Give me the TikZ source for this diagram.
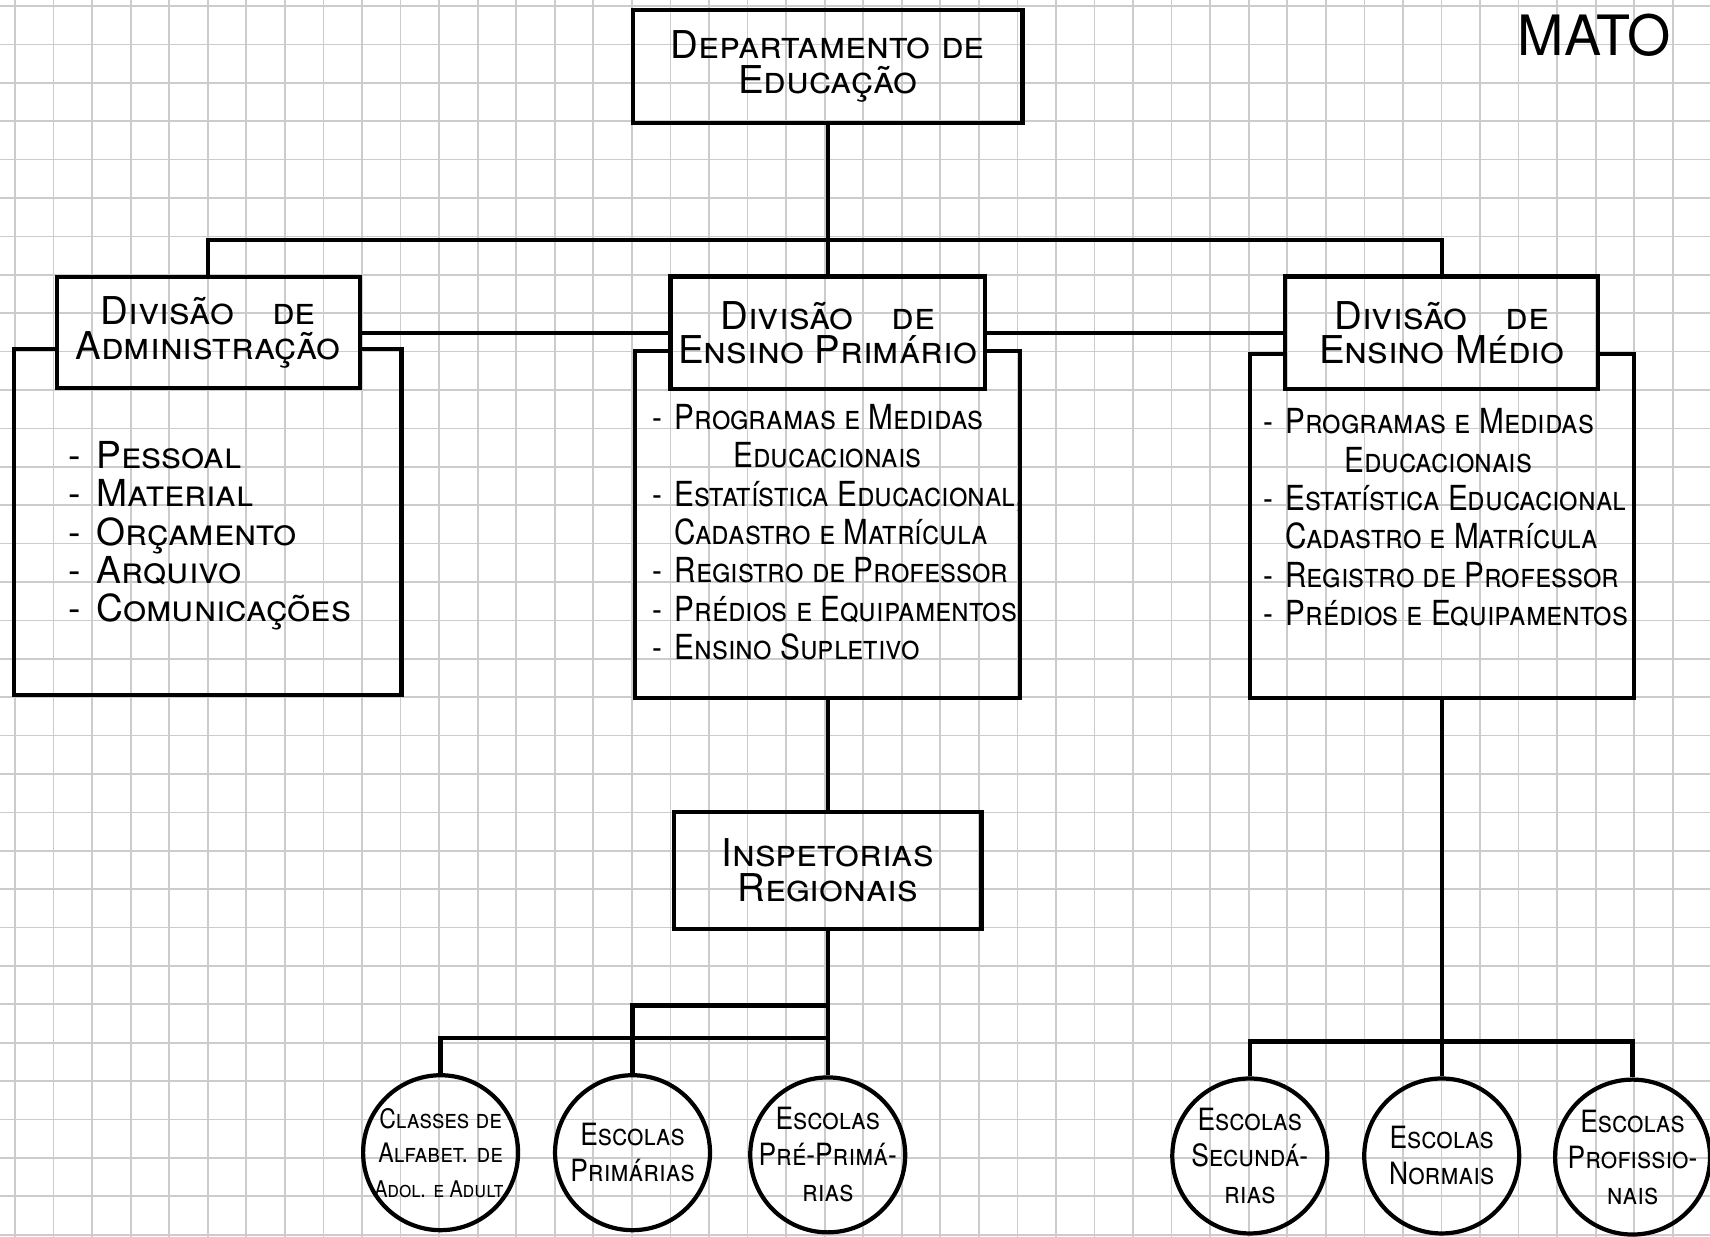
\documentclass[tikz,border=0pt]{standalone}
\usepackage{fontspec}
\usepackage{tikz}
\usetikzlibrary{positioning,calc}
\newfontfamily\hand{TeX Gyre Heros}
\newfontfamily\handn{TeX Gyre Heros}[FakeStretch=0.86]
\newcommand{\itemdash}{\makebox[0.2cm][l]{-}}
\newcommand{\itemgap}{\hspace*{0.2cm}}

\begin{document}
\begin{tikzpicture}[x=0.01cm, y=-0.01cm,
    gridline/.style={black!20, line width=0.45pt},
    box/.style={rectangle, draw, line width=1.1pt, align=center, inner sep=2pt, font=\hand\scshape\fontsize{10}{9}\selectfont},
    listframe/.style={rectangle, inner sep=0pt, outer sep=0pt},
    frame/.style={line width=1.1pt},
    link/.style={line width=1.1pt},
    items/.style={anchor=north west, align=left, inner sep=0pt, font=\handn\scshape\fontsize{9}{10}\selectfont},
    bigitems/.style={items, font=\hand\scshape\fontsize{9.7}{10}\selectfont},
    school/.style={circle, draw, line width=1.1pt, minimum size=1.42cm, inner sep=-2pt, align=center, font=\handn\scshape\fontsize{8}{9.4}\selectfont}
]
\useasboundingbox (0,0) rectangle (1568,1134);

% graph paper
\begin{scope}
\clip (0,0) rectangle (1568,1134);
\draw[gridline, shift={(13.8,5.5)}, xstep=0.3533cm, ystep=0.3519cm] (-40,1160) grid (1600,-60);
\end{scope}

\node[font=\hand\fontsize{14.5}{16}\selectfont] (mato) at (1462,32) {MATO};

% top and divisions
\node[box, minimum width=3.57cm, minimum height=1.03cm] (dept) at (759,61) {Departamento de\\Educação};
\node[box, minimum width=2.78cm, minimum height=1.02cm] (adm) at (191,305) {Divisão\quad de\\Administração};
\node[box, minimum width=2.85cm, minimum height=1.03cm] (prim) at (759,305) {Divisão\quad de\\Ensino Primário};
\node[box, minimum width=2.87cm, minimum height=1.03cm] (med) at (1322,305) {Divisão\quad de\\Ensino Médio};

\node[listframe, minimum width=3.55cm, minimum height=3.17cm] (admlist) at (190.5,478.5) {};
\node[listframe, minimum width=3.53cm, minimum height=3.18cm] (primlist) at (759,481) {};
\node[listframe, minimum width=3.52cm, minimum height=3.15cm] (medlist) at (1322,482.5) {};

\coordinate (topbus) at (0,220);
\draw[link] (dept.south) -- (prim.north);
\draw[link] (adm.north) -- (adm.north |- topbus) -- (med.north |- topbus) -- (med.north);
\draw[link] (adm.east) -- (prim.west);
\draw[link] (prim.east) -- (med.west);

\draw[frame] (adm.west |- admlist.north) -- (admlist.north west) -- (admlist.south west) -- (admlist.south east) -- (admlist.north east) -- (adm.east |- admlist.north);
\draw[frame] (prim.west |- primlist.north) -- (primlist.north west) -- (primlist.south west) -- (primlist.south east) -- (primlist.north east) -- (prim.east |- primlist.north);
\draw[frame] (med.west |- medlist.north) -- (medlist.north west) -- (medlist.south west) -- (medlist.south east) -- (medlist.north east) -- (med.east |- medlist.north);

% lists
\node[bigitems] (admitems) at (62,404) {\makebox[0.26cm][l]{-}Pessoal\\ \makebox[0.26cm][l]{-}Material\\ \makebox[0.26cm][l]{-}Orçamento\\ \makebox[0.26cm][l]{-}Arquivo\\ \makebox[0.26cm][l]{-}Comunicações};
\node[items] (primitems) at (598,370) {\itemdash Programas e Medidas\\
    \hspace*{0.74cm}Educacionais\\
    \itemdash Estatística Educacional,\\
    \itemgap Cadastro e Matrícula\\
    \itemdash Registro de Professor\\
    \itemdash Prédios e Equipamentos\\
    \itemdash Ensino Supletivo};
\node[items] (meditems) at (1158,374) {\itemdash Programas e Medidas\\
    \hspace*{0.74cm}Educacionais\\
    \itemdash Estatística Educacional\\
    \itemgap Cadastro e Matrícula\\
    \itemdash Registro de Professor\\
    \itemdash Prédios e Equipamentos};

% inspetorias and schools
\node[box, minimum width=2.82cm, minimum height=1.07cm] (insp) at (759,798) {Inspetorias\\Regionais};

\node[school, font=\handn\scshape\fontsize{7}{9}\selectfont] (alfa) at (404,1057) {Classes de\\Alfabet. de\\{\fontsize{6}{7}\selectfont Adol. e Adult.}};
\node[school] (primarias) at (580,1057) {Escolas\\Primárias};
\node[school] (preprim) at (759,1059) {Escolas\\Pré-Primá-\\rias};
\node[school] (secund) at (1146,1060) {Escolas\\Secundá-\\rias};
\node[school] (normais) at (1322,1060) {Escolas\\Normais};
\node[school] (profis) at (1497,1061) {Escolas\\Profissio-\\nais};

\coordinate (lowbusa) at (0,922);
\coordinate (lowbusb) at (0,952);
\coordinate (lowbusc) at (0,955);
\draw[link] (primlist.south) -- (insp.north);
\draw[link] (insp.south) -- (preprim.north);
\draw[link] (preprim.north |- lowbusa) -- (primarias.north |- lowbusa) -- (primarias.north);
\draw[link] (preprim.north |- lowbusb) -- (alfa.north |- lowbusb) -- (alfa.north);
\draw[link] (medlist.south) -- (normais.north);
\draw[link] (secund.north) -- (secund.north |- lowbusc) -- (profis.north |- lowbusc) -- (profis.north);

\end{tikzpicture}
\end{document}
